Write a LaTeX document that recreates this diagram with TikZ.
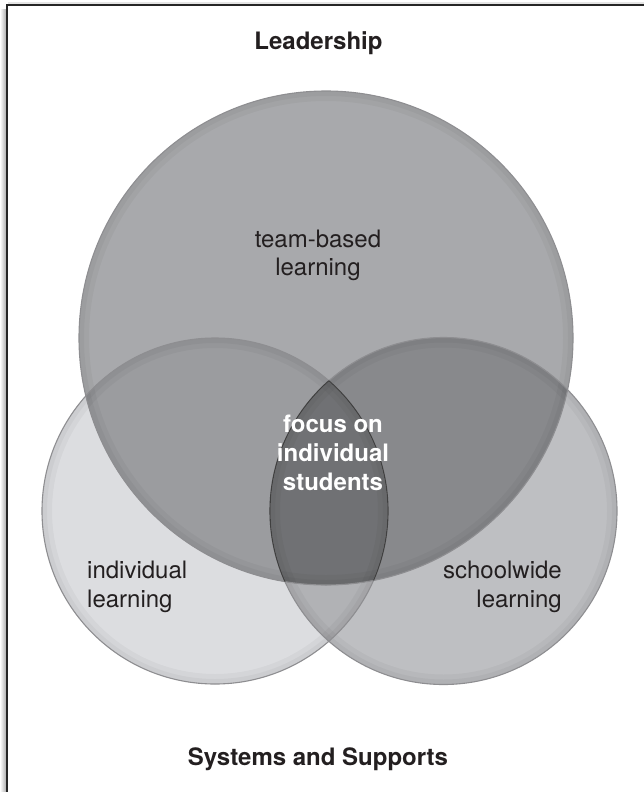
\documentclass[tikz,border=0pt]{standalone}
\usepackage{fontspec}
\setmainfont{TeX Gyre Heros}
\definecolor{cT}{HTML}{A8A9AC}
\definecolor{cL}{HTML}{DCDDE0}
\definecolor{cR}{HTML}{BEBFC2}
\definecolor{cTL}{HTML}{9B9C9F}
\definecolor{cTR}{HTML}{88898C}
\definecolor{cLR}{HTML}{B1B2B5}
\definecolor{cTLR}{HTML}{707174}
\definecolor{edge}{HTML}{8E8E91}
\definecolor{ink}{HTML}{231F20}
\tikzset{
  reglabel/.style={font=\fontsize{24}{29}\selectfont, text=ink, inner sep=0pt},
  boldlabel/.style={font=\fontsize{24}{29}\selectfont\bfseries, text=ink, inner sep=0pt},
  whitelabel/.style={font=\fontsize{24}{29}\selectfont\bfseries, text=white, inner sep=0pt},
  rim/.style={line width=#1, black, opacity=0.035}
}
\def\circT{(326,338) circle[radius=247pt]}
\def\circL{(215,511) circle[radius=173pt]}
\def\circR{(443.5,511) circle[radius=173.5pt]}
\begin{document}
\begin{tikzpicture}[x=1pt,y=-1pt]
\useasboundingbox (0,0) rectangle (644,792);
\clip (0,0) rectangle (644,792);
% frame shadow and frame
\shade[left color=white, right color=black!30] (0,10) rectangle (5.8,800);
\fill[black!10] (8,2.5) rectangle (660,4.6);
\draw[line width=2pt, black!85] (6.5,800) -- (6.5,5.5) -- (660,5.5);
% base fills
\fill[cL] \circL;
\fill[cR] \circR;
\fill[cT] \circT;
\begin{scope}\clip \circL; \fill[cLR] \circR; \end{scope}
\begin{scope}\clip \circT; \fill[cTL] \circL; \end{scope}
\begin{scope}\clip \circT; \fill[cTR] \circR; \end{scope}
\begin{scope}\clip \circT; \clip \circL; \fill[cTLR] \circR; \end{scope}
% inner rims
\begin{scope}\clip \circT;
  \draw[rim=10pt] (326,338) circle[radius=242pt];
  \draw[rim=5pt] (326,338) circle[radius=244.5pt];
\end{scope}
\begin{scope}\clip \circL;
  \draw[rim=10pt] (215,511) circle[radius=168pt];
  \draw[rim=5pt] (215,511) circle[radius=170.5pt];
\end{scope}
\begin{scope}\clip \circR;
  \draw[rim=10pt] (443.5,511) circle[radius=168.5pt];
  \draw[rim=5pt] (443.5,511) circle[radius=171pt];
\end{scope}
% outlines
\draw[edge, line width=1.1pt] \circL;
\draw[edge, line width=1.1pt] \circR;
\draw[edge, line width=1.1pt] \circT;
\begin{scope}\clip \circT; \clip \circR;
  \draw[black!75, line width=1.1pt] \circL;
\end{scope}
\begin{scope}\clip \circT; \clip \circL;
  \draw[black!75, line width=1.1pt] \circR;
\end{scope}
% labels
\node[boldlabel, anchor=base] (lead) at (318.5,49) {Leadership};
\node[boldlabel, anchor=base] (sys) at (318,765) {Systems and Supports};
\node[reglabel, anchor=base] (team1) at (318,247) {team-based};
\node[reglabel, anchor=base] (team2) at (318,275) {learning};
\node[reglabel, anchor=base west] (ind1) at (87,578) {individual};
\node[reglabel, anchor=base west] (ind2) at (87,607) {learning};
\node[reglabel, anchor=base east] (sch1) at (562,578) {schoolwide};
\node[reglabel, anchor=base east] (sch2) at (562,607) {learning};
\node[whitelabel, anchor=base] (foc1) at (333,432) {focus on};
\node[whitelabel, anchor=base] (foc2) at (333,461) {individual};
\node[whitelabel, anchor=base] (foc3) at (333,490) {students};
\end{tikzpicture}
\end{document}
